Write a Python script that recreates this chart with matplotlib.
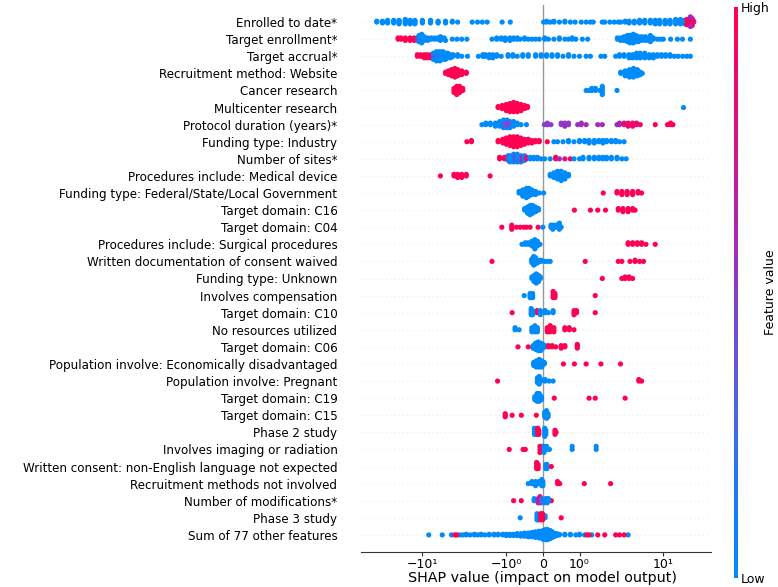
import numpy as np
import matplotlib
matplotlib.use("Agg")
import matplotlib.pyplot as plt
from matplotlib.colors import LinearSegmentedColormap
from matplotlib.ticker import NullLocator

# ---------------- data ----------------
features = [
    "Enrolled to date*",
    "Target enrollment*",
    "Target accrual*",
    "Recruitment method: Website",
    "Cancer research",
    "Multicenter research",
    "Protocol duration (years)*",
    "Funding type: Industry",
    "Number of sites*",
    "Procedures include: Medical device",
    "Funding type: Federal/State/Local Government",
    "Target domain: C16",
    "Target domain: C04",
    "Procedures include: Surgical procedures",
    "Written documentation of consent waived",
    "Funding type: Unknown",
    "Involves compensation",
    "Target domain: C10",
    "No resources utilized",
    "Target domain: C06",
    "Population involve: Economically disadvantaged",
    "Population involve: Pregnant",
    "Target domain: C19",
    "Target domain: C15",
    "Phase 2 study",
    "Involves imaging or radiation",
    "Written consent: non-English language not expected",
    "Recruitment methods not involved",
    "Number of modifications*",
    "Phase 3 study",
    "Sum of 77 other features",
]

# each entry: (SHAP value, number of points, feature value 0=low .. 1=high)
enrolled_to_date = [
    (-35, 2, 0), (-30, 3, 0), (-26, 4, 0), (-22, 4, 0), (-19, 5, 0), (-16, 6, 0), (-14, 5, 0),
    (-12.3, 5, 0), (-10, 4, 0), (-8, 4, 0), (-6.5, 3, 0), (-5.3, 3, 0), (-4.4, 2, 0), (-3.8, 1, 0),
    (-2.55, 1, 0), (-2.2, 1, 0), (-1.93, 1, 0), (-1.69, 1, 0), (-1.12, 1, 0), (-0.89, 1, 0),
    (0.02, 1, 0), (0.1, 2, 0), (0.2, 1, 0), (0.3, 2, 0), (0.45, 1, 0), (0.6, 2, 0), (0.75, 1, 0),
    (0.88, 1, 0), (1.05, 1, 0), (1.2, 1, 0), (1.35, 1, 0), (1.46, 1, 0), (1.87, 1, 0), (2.0, 1, 0),
    (2.3, 1, 0), (2.6, 1, 0), (2.9, 1, 0), (3.1, 1, 0), (3.5, 2, 0), (3.9, 3, 0), (4.5, 3, 0),
    (5.2, 4, 0), (6.0, 4, 0), (7.0, 4, 0), (8.0, 5, 0), (9.0, 5, 0), (10.5, 5, 0), (12, 5, 0),
    (14, 6, 0), (16, 6, 0), (18, 5, 0), (20, 4, 0),
    (19, 3, 0.9), (20.5, 5, 1.0), (22, 4, 1.0), (21, 3, 0.6), (23, 2, 0.8),
]
target_enrollment = [
    (-19.5, 2, 1), (-18, 2, 1), (-16, 3, 1), (-14, 3, 1), (-12.5, 3, 1),
    (-11.5, 3, 0.5), (-10.5, 3, 0.3),
    (-11, 3, 0), (-10.2, 5, 0), (-9.5, 4, 0), (-8.6, 3, 0), (-7.8, 2, 0), (-7.1, 2, 0), (-6.5, 2, 0),
    (-6.1, 2, 0), (-5.5, 2, 0), (-5.3, 1, 0), (-4.4, 1, 0), (-3.87, 1, 0), (-3.4, 1, 0), (-2.95, 1, 0),
    (-1.48, 1, 0), (-1.3, 2, 0), (-1.15, 2, 0), (-1.03, 3, 0), (-0.9, 3, 0), (-0.8, 2, 0), (-0.7, 2, 0),
    (-0.62, 1, 0), (-0.5, 2, 0), (-0.4, 1, 0), (-0.3, 1, 0), (-0.2, 1, 0), (-0.1, 1, 0), (0.05, 2, 0),
    (0.15, 1, 0), (0.3, 1, 0), (0.45, 2, 0), (0.6, 1, 0), (0.7, 1, 0), (0.8, 2, 0), (0.9, 1, 0),
    (1.08, 1, 0), (1.25, 1, 0), (2.83, 2, 0), (3.1, 3, 0), (3.4, 4, 0), (3.72, 6, 0), (4.0, 7, 0),
    (4.38, 8, 0), (4.7, 6, 0), (5.03, 5, 0), (5.5, 4, 0), (6.1, 4, 0), (6.6, 3, 0), (7.0, 3, 0),
    (7.6, 2, 0), (8.5, 1, 0), (9.3, 1, 0), (10, 1, 0), (12.2, 1, 0), (14.7, 1, 0), (16.9, 1, 0), (21, 1, 0),
]
target_accrual = [
    (-11.5, 2, 1), (-10.5, 2, 1), (-9.5, 3, 1), (-8.8, 3, 1), (-8, 3, 1),
    (-7.4, 3, 0.5), (-6.8, 3, 0.4), (-6.2, 2, 0.3),
    (-7.4, 2, 0), (-6.8, 4, 0), (-6.2, 5, 0), (-5.7, 6, 0), (-5.3, 5, 0), (-5.0, 4, 0), (-4.6, 3, 0),
    (-4.3, 2, 0), (-3.8, 2, 0), (-3.4, 1, 0), (-2.9, 1, 0), (-2.15, 1, 0), (-1.9, 2, 0), (-1.78, 2, 0),
    (-1.6, 3, 0), (-1.45, 3, 0), (-1.3, 2, 0), (-1.15, 1, 0), (-0.95, 2, 0), (-0.82, 2, 0), (-0.7, 1, 0),
    (-0.55, 2, 0), (-0.4, 2, 0), (-0.2, 2, 0), (-0.05, 2, 0), (0.1, 2, 0), (0.25, 2, 0), (0.4, 2, 0),
    (0.55, 1, 0), (0.7, 2, 0), (0.85, 1, 0), (1.0, 1, 0), (1.2, 1, 0), (1.35, 1, 0), (1.8, 1, 0),
    (2.0, 1, 0), (2.7, 1, 0), (3.0, 2, 0), (3.4, 2, 0), (3.9, 3, 0), (4.3, 3, 0), (4.8, 4, 0),
    (5.3, 4, 0), (6.0, 4, 0), (6.8, 3, 0), (7.6, 3, 0), (8.5, 2, 0), (9.5, 2, 0), (10.6, 2, 0),
    (12, 2, 0), (13.5, 1, 0), (15, 1, 0), (17, 1, 0), (19, 1, 0), (21, 1, 0),
]
website = [
    (-5.3, 2, 1), (-4.9, 4, 1), (-4.5, 6, 1), (-4.1, 8, 1), (-3.8, 6, 1), (-3.4, 4, 1), (-3.0, 2, 1),
    (3.1, 2, 0), (3.5, 5, 0), (3.95, 7, 0), (4.4, 8, 0), (4.9, 6, 0), (5.3, 3, 0), (5.6, 1, 0),
]
cancer = [
    (-4.2, 3, 1), (-3.9, 5, 1), (-3.6, 4, 1), (-3.3, 2, 1),
    (1.2, 1, 0), (1.3, 1, 0), (1.4, 2, 0), (1.55, 2, 0), (1.75, 1, 0), (1.87, 5, 0), (2.8, 1, 0),
]
multicenter = [
    (-1.25, 2, 1), (-1.12, 4, 1), (-1.0, 7, 1), (-0.9, 9, 1), (-0.8, 10, 1), (-0.7, 9, 1),
    (-0.6, 7, 1), (-0.5, 4, 1), (-0.42, 2, 1), (17.4, 1, 0),
]
protocol_duration = [
    (-1.95, 1, 0), (-1.75, 2, 0), (-1.55, 2, 0), (-1.35, 3, 0), (-1.2, 4, 0), (-1.08, 6, 0),
    (-0.98, 6, 0), (-0.9, 5, 0), (-0.8, 4, 0), (-0.7, 2, 0), (-0.6, 1, 0), (-0.45, 1, 0),
    (-1.05, 3, 0.35), (-0.95, 2, 0.45),
    (0.04, 1, 0.45), (0.12, 2, 0.5), (0.22, 1, 0.5), (0.5, 2, 0.5), (0.6, 3, 0.55), (0.7, 2, 0.5),
    (0.95, 1, 0.55), (1.05, 2, 0.55), (1.2, 1, 0.6), (1.65, 1, 0.55), (1.87, 1, 0.6), (2.8, 1, 0.55),
    (3.0, 2, 0.6), (3.4, 2, 0.8), (3.8, 3, 0.9), (4.3, 3, 0.9), (4.8, 2, 0.85), (5.3, 1, 0.9),
    (8, 1, 1.0), (11.2, 1, 1.0), (12.2, 2, 1.0), (13, 1, 1.0),
]
funding_industry = [
    (-2.95, 1, 1), (-2.6, 2, 1), (-1.25, 2, 1), (-1.1, 4, 1), (-1.0, 6, 1), (-0.9, 8, 1), (-0.8, 9, 1),
    (-0.7, 9, 1), (-0.6, 7, 1), (-0.5, 5, 1), (-0.4, 4, 1), (-0.3, 3, 1), (-0.2, 2, 1), (-0.1, 2, 1),
    (0.12, 1, 1),
    (0.3, 1, 0), (0.4, 1, 0), (0.55, 1, 0), (0.7, 2, 0), (0.85, 1, 0), (1.0, 2, 0), (1.15, 2, 0),
    (1.3, 3, 0), (1.5, 3, 0), (1.7, 2, 0), (1.9, 3, 0), (2.1, 2, 0), (2.4, 2, 0), (2.7, 2, 0),
    (3.0, 1, 0), (3.4, 1, 0),
]
number_of_sites = [
    (-1.2, 2, 1), (-1.05, 2, 1), (-0.95, 4, 0.3), (-0.9, 5, 0.0), (-0.8, 6, 0.0), (-0.75, 4, 0.5),
    (-0.7, 6, 0.0), (-0.6, 5, 0.2), (-0.55, 3, 0.6), (-0.5, 4, 0.0), (-0.45, 2, 0.8), (-0.35, 2, 0.0),
    (-0.25, 2, 0), (-0.15, 2, 0), (-0.05, 1, 0), (0.05, 1, 0), (0.2, 1, 0), (0.35, 2, 1.0),
    (0.45, 1, 0.6), (0.6, 1, 0.8), (0.75, 1, 1.0), (0.85, 1, 0), (1.0, 1, 0), (1.1, 2, 0), (1.3, 2, 0),
    (1.5, 2, 0), (1.7, 2, 0), (1.9, 2, 0), (2.1, 2, 0), (2.4, 2, 0), (2.8, 2, 0), (3.2, 1, 0), (3.6, 1, 0),
]
medical_device = [
    (-6.1, 1, 1), (-4.2, 2, 1), (-3.8, 3, 1), (-3.4, 3, 1), (-3.0, 2, 1), (-1.56, 1, 1),
    (0.2, 2, 0), (0.3, 4, 0), (0.4, 6, 0), (0.5, 7, 0), (0.6, 5, 0), (0.7, 2, 0),
]
funding_federal = [
    (-0.65, 2, 0), (-0.55, 5, 0), (-0.45, 7, 0), (-0.38, 6, 0), (-0.3, 4, 0), (-0.2, 3, 0),
    (-0.1, 1, 0), (0.02, 1, 0),
    (1.92, 1, 1), (2.8, 2, 1), (3.2, 3, 1), (3.7, 3, 1), (4.3, 3, 1), (5.0, 2, 1), (5.5, 1, 1),
]
domain_c16 = [
    (-0.5, 2, 0), (-0.42, 5, 0), (-0.35, 7, 0), (-0.28, 6, 0), (-0.2, 4, 0), (-0.12, 2, 0),
    (0.86, 1, 1), (1.35, 1, 1), (1.65, 1, 1), (2.04, 1, 1), (2.9, 2, 1), (3.3, 3, 1), (3.8, 3, 1),
    (4.3, 2, 1), (4.6, 1, 1),
]
domain_c04 = [
    (-1.13, 1, 1), (-0.85, 3, 1), (-0.72, 1, 1), (-0.62, 1, 1), (-0.52, 1, 1), (-0.45, 1, 1),
    (-0.35, 1, 1), (-0.13, 1, 1),
    (0.0, 1, 0), (0.22, 2, 0), (0.27, 3, 0), (0.35, 2, 0), (0.45, 4, 0), (0.5, 1, 0),
]
surgical = [
    (-0.57, 1, 0), (-0.48, 2, 0), (-0.4, 2, 0), (-0.3, 4, 0), (-0.22, 7, 0), (-0.15, 4, 0), (-0.08, 1, 0),
    (3.8, 2, 1), (4.3, 2, 1), (4.9, 2, 1), (5.5, 2, 1), (6.2, 1, 1), (8.0, 1, 1),
]
consent_waived = [
    (-0.3, 4, 0), (-0.25, 8, 0), (-0.2, 6, 0), (-0.14, 3, 0), (-0.05, 2, 0), (0.05, 1, 0),
    (0.12, 1, 0), (0.2, 1, 0),
    (-1.48, 1, 1), (1.17, 1, 1), (2.9, 1, 1), (3.2, 1, 1), (4.0, 1, 1), (4.6, 2, 1), (5.2, 1, 1), (5.8, 1, 1),
]
funding_unknown = [
    (-0.3, 2, 0), (-0.24, 5, 0), (-0.18, 7, 0), (-0.12, 5, 0), (-0.07, 2, 0),
    (1.87, 1, 1), (3.2, 1, 1), (3.5, 2, 1), (3.9, 2, 1), (4.3, 1, 1),
]
compensation = [
    (-0.51, 1, 0), (-0.35, 3, 0), (-0.28, 3, 0),
    (0.28, 4, 1), (0.33, 3, 1), (1.54, 1, 1),
]
domain_c10 = [
    (-0.84, 1, 1), (-0.16, 2, 1), (0.85, 3, 1), (0.92, 2, 1), (1.54, 1, 1),
    (-0.32, 4, 0), (-0.28, 3, 0), (-0.07, 3, 0), (0.06, 2, 0), (0.15, 1, 0), (0.28, 2, 0),
]
no_resources = [
    (-0.76, 2, 0), (-0.65, 1, 0), (-0.3, 3, 0), (-0.22, 4, 0), (-0.15, 3, 0),
    (0.12, 3, 1), (0.2, 4, 1), (0.3, 3, 1), (0.6, 2, 1), (0.72, 2, 1), (0.85, 1, 1),
]
domain_c06 = [
    (-0.27, 3, 0), (-0.2, 6, 0), (-0.13, 8, 0), (-0.06, 7, 0), (0.0, 4, 0), (0.06, 2, 0),
    (-0.68, 1, 1), (-0.4, 1, 1), (0.15, 2, 1), (0.25, 2, 1), (0.35, 1, 1), (0.5, 3, 1),
    (0.6, 2, 1), (0.94, 4, 1),
]
econ_disadvantaged = [
    (-0.25, 3, 0), (-0.18, 5, 0), (-0.1, 6, 0), (-0.03, 5, 0), (0.04, 2, 0),
    (0.56, 1, 1), (0.86, 1, 1), (1.2, 1, 1), (1.8, 1, 1), (3.08, 1, 1),
]
pregnant = [
    (-0.15, 4, 0), (-0.1, 6, 0), (-0.05, 2, 0), (0.06, 2, 0), (0.17, 1, 0), (0.28, 1, 0),
    (-1.27, 1, 1), (5.1, 2, 1), (5.5, 1, 1),
]
domain_c19 = [
    (-0.22, 3, 0), (-0.16, 6, 0), (-0.1, 6, 0), (-0.04, 3, 0),
    (0.31, 1, 1), (1.3, 1, 1), (1.54, 1, 1), (3.5, 1, 1),
]
domain_c15 = [
    (-1.03, 3, 1), (-0.84, 1, 1), (-0.59, 1, 1), (-0.18, 1, 1),
    (0.05, 4, 0), (0.1, 6, 0), (0.14, 3, 0),
]
phase2 = [
    (-0.23, 4, 0), (-0.2, 3, 0), (0.05, 5, 0), (0.08, 3, 0),
    (-0.14, 4, 1), (-0.11, 3, 1), (0.33, 3, 1), (0.36, 1, 1),
]
imaging = [
    (-0.92, 1, 1), (-0.54, 1, 1), (-0.48, 1, 1), (-0.08, 3, 1), (-0.02, 2, 1),
    (0.03, 3, 0), (0.1, 2, 0), (0.18, 1, 0), (0.8, 2, 0), (1.58, 2, 0),
]
non_english = [
    (-0.17, 4, 1), (-0.13, 3, 1), (0.08, 3, 0), (0.11, 3, 0), (0.23, 1, 1),
]
recruit_not_involved = [
    (-0.4, 1, 0), (-0.3, 2, 0), (-0.2, 3, 0), (-0.1, 2, 0), (-0.03, 4, 0), (0.0, 3, 0),
    (0.4, 2, 1), (0.46, 1, 1), (1.14, 1, 1), (2.35, 1, 1),
]
modifications = [
    (-0.8, 1, 1), (-0.59, 1, 1), (0.23, 1, 1),
    (-0.24, 2, 0.0), (-0.13, 3, 0.6), (-0.08, 4, 0.8), (-0.03, 3, 0.3), (0.06, 3, 0.0),
    (0.12, 3, 0.0), (0.15, 2, 0.0),
]
phase3 = [
    (-0.62, 1, 0), (-0.16, 4, 0), (-0.13, 3, 0), (0.06, 2, 0),
    (-0.06, 4, 1), (-0.01, 4, 1), (0.5, 1, 1),
]
sum_other = [
    (-8.4, 1, 0), (-5.8, 1, 0), (-4.5, 1, 0), (-3.6, 1, 0), (-3.3, 1, 0), (-3.0, 2, 0), (-2.7, 1, 0),
    (-2.4, 2, 0), (-2.2, 1, 0), (-2.0, 2, 0), (-1.8, 1, 0), (-1.6, 2, 0), (-1.4, 2, 0), (-1.25, 2, 0),
    (-1.1, 2, 0), (-1.0, 3, 0), (-0.9, 3, 0), (-0.8, 3, 0), (-0.7, 4, 0), (-0.6, 5, 0), (-0.5, 6, 0),
    (-0.4, 7, 0), (-0.3, 8, 0), (-0.2, 10, 0), (-0.1, 12, 0), (0.0, 15, 0), (0.05, 16, 0),
    (0.1, 18, 0), (0.15, 16, 0), (0.2, 14, 0), (0.25, 10, 0), (0.3, 7, 0), (0.38, 4, 0), (0.45, 2, 0),
    (0.6, 2, 0), (0.75, 2, 0), (0.9, 1, 0), (1.0, 2, 0), (1.15, 1, 0), (1.4, 1, 0), (3.8, 1, 0),
    (-4.1, 1, 1), (-3.9, 1, 1), (1.22, 1, 1), (1.3, 1, 1), (1.65, 1, 1), (2.0, 1, 1), (2.7, 1, 1),
    (3.0, 1, 1), (3.4, 1, 1),
]

rows = [
    enrolled_to_date, target_enrollment, target_accrual, website, cancer, multicenter,
    protocol_duration, funding_industry, number_of_sites, medical_device, funding_federal,
    domain_c16, domain_c04, surgical, consent_waived, funding_unknown, compensation, domain_c10,
    no_resources, domain_c06, econ_disadvantaged, pregnant, domain_c19, domain_c15, phase2,
    imaging, non_english, recruit_not_involved, modifications, phase3, sum_other,
]

x_ticks = [-10, -1, 0, 1, 10]
x_tick_labels = ["\u221210\u00b9", "\u221210\u2070", "0", "10\u2070", "10\u00b9"]

# ---------------- style ----------------
cmap = LinearSegmentedColormap.from_list(
    "red_blue",
    [(0.0, "#008bfb"), (0.2, "#2a74f0"), (0.4, "#6a52dc"), (0.55, "#9a2fc0"),
     (0.7, "#c51a9c"), (0.85, "#e80b74"), (1.0, "#ff0052")],
)

W, H = 778, 587
fig = plt.figure(figsize=(W / 100, H / 100), dpi=100)
ax = fig.add_axes([361 / W, 1 - 552 / H, (711 - 361) / W, (552 - 5) / H])
ax.set_xscale("symlog", linthresh=1, linscale=0.393)
ax.set_xlim(-54, 37)
ax.set_ylim(-1, len(features))
tr = ax.xaxis.get_transform()

n = len(features)
row_height = 0.4
for i, row in enumerate(rows):
    pos = n - 1 - i
    ax.axhline(y=pos, color="#cccccc", lw=0.5, dashes=(1, 5), zorder=-1)
    xs = np.array([v for v, k, c in row for _ in range(k)], dtype=float)
    cs = np.array([c for v, k, c in row for _ in range(k)], dtype=float)
    xt = tr.transform(xs.reshape(-1, 1)).ravel()
    nbins = 100
    quant = np.round(nbins * (xt - xt.min()) / (xt.max() - xt.min() + 1e-8))
    order = np.argsort(quant, kind="stable")
    ys = np.zeros(len(xs))
    layer, last = 0, -1
    for ind in order:
        if quant[ind] != last:
            layer = 0
        ys[ind] = np.ceil(layer / 2) * ((layer % 2) * 2 - 1)
        layer += 1
        last = quant[ind]
    ys *= 0.9 * (row_height / np.max(ys + 1))
    ax.scatter(xs, pos + ys, c=cs, cmap=cmap, vmin=0, vmax=1, s=14,
               linewidth=0, zorder=3)

ax.axvline(x=0, color="#999999", lw=1.0, zorder=-1)

ax.set_yticks(range(n))
ax.set_yticklabels(list(reversed(features)), fontsize=8.6)
ax.tick_params("y", length=0, pad=17)
ax.set_xticks(x_ticks)
ax.set_xticklabels(x_tick_labels)
ax.xaxis.set_minor_locator(NullLocator())
ax.tick_params("x", labelsize=9, color="#333333", length=3, pad=1.5)
for s in ["top", "right", "left"]:
    ax.spines[s].set_visible(False)
ax.spines["bottom"].set_color("#333333")
fig.text(542 / W, 1 - 585 / H, "SHAP value (impact on model output)", fontsize=10.3,
         ha="center", va="bottom")

cax = fig.add_axes([734 / W, 1 - 578 / H, 4 / W, (578 - 7) / H])
sm = plt.cm.ScalarMappable(cmap=cmap, norm=plt.Normalize(0, 1))
cb = fig.colorbar(sm, cax=cax, ticks=[0, 1])
cb.set_ticklabels(["Low", "High"])
cb.ax.tick_params(labelsize=9, length=0, pad=2)
cb.outline.set_visible(False)
fig.text(770 / W, 1 - 292 / H, "Feature value", rotation=90, fontsize=9,
         ha="center", va="center")

fig.savefig("out.png", dpi=100)
